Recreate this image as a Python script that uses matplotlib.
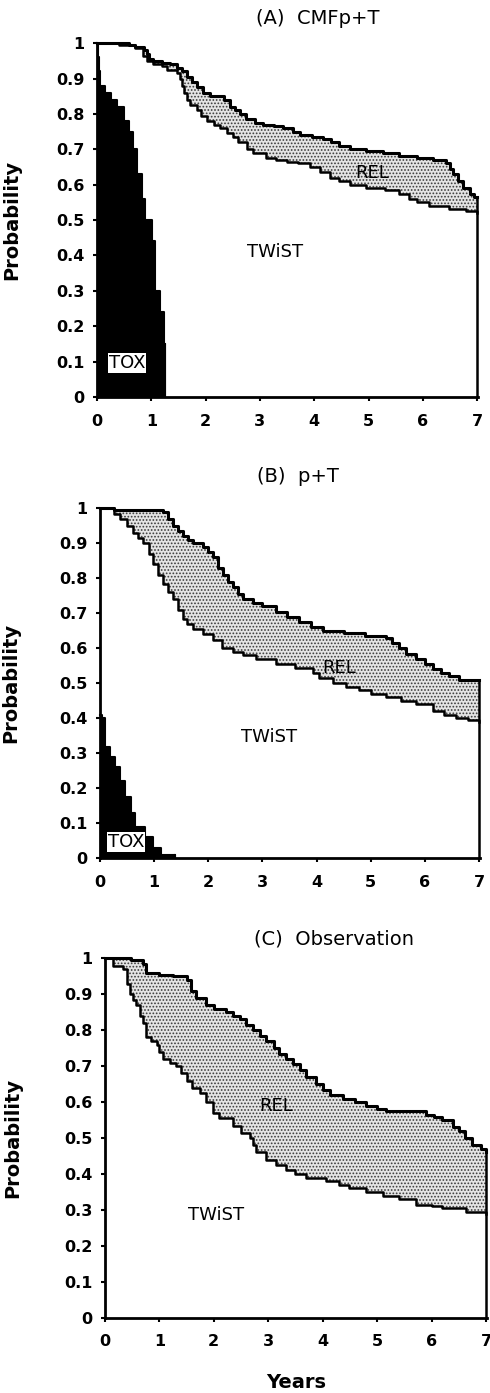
import matplotlib.pyplot as plt
import matplotlib.ticker as mtick

plt.rcParams.update({
    "font.family": ["DejaVu Sans"],
    "axes.spines.top": False,
    "axes.spines.right": False,
    "hatch.linewidth": 0.8,
})

# ---------- data ----------
# Panel A: CMFp+T
a_os_t = [0, 0.58, 0.70, 0.86, 0.92, 0.95, 1.04, 1.20, 1.35, 1.47, 1.56, 1.65, 1.74, 1.84, 1.95,
          2.08, 2.33, 2.45, 2.55, 2.63, 2.75, 2.90, 3.06, 3.25, 3.43, 3.60, 3.74, 3.95, 4.17, 4.30,
          4.45, 4.65, 4.96, 5.27, 5.57, 5.90, 6.18, 6.43, 6.50, 6.55, 6.65, 6.74, 6.86, 6.95, 7.0]
a_os_p = [1.0, 0.995, 0.99, 0.98, 0.97, 0.955, 0.95, 0.945, 0.94, 0.93, 0.92, 0.905, 0.89, 0.875, 0.86,
          0.85, 0.84, 0.82, 0.81, 0.80, 0.785, 0.775, 0.77, 0.765, 0.76, 0.75, 0.74, 0.735, 0.73, 0.72,
          0.71, 0.70, 0.695, 0.69, 0.68, 0.675, 0.67, 0.66, 0.645, 0.63, 0.61, 0.59, 0.575, 0.565, 0.565]
a_dfs_t = [0, 0.40, 0.70, 0.85, 0.92, 1.04, 1.20, 1.29, 1.47, 1.52, 1.56, 1.60, 1.65, 1.72, 1.84,
           1.92, 2.02, 2.15, 2.27, 2.40, 2.51, 2.60, 2.76, 2.88, 3.12, 3.30, 3.49, 3.70, 3.92, 4.10,
           4.29, 4.45, 4.65, 4.96, 5.30, 5.57, 5.75, 5.90, 6.12, 6.49, 6.80, 7.0]
a_dfs_p = [1.0, 0.995, 0.985, 0.965, 0.95, 0.94, 0.935, 0.925, 0.915, 0.90, 0.88, 0.86, 0.84, 0.825, 0.81,
           0.795, 0.78, 0.77, 0.76, 0.745, 0.735, 0.72, 0.70, 0.69, 0.675, 0.67, 0.665, 0.66, 0.65, 0.635,
           0.62, 0.61, 0.60, 0.59, 0.585, 0.575, 0.56, 0.55, 0.54, 0.53, 0.525, 0.52]
a_tox_t = [0, 0.02, 0.04, 0.06, 0.15, 0.25, 0.37, 0.49, 0.58, 0.67, 0.74, 0.83, 0.89, 1.01, 1.07,
           1.16, 1.24, 1.26]
a_tox_p = [1.0, 0.96, 0.92, 0.88, 0.86, 0.84, 0.82, 0.78, 0.75, 0.70, 0.63, 0.56, 0.50, 0.44, 0.30,
           0.24, 0.15, 0.0]

# Panel B: p+T
b_os_t = [0, 0.25, 1.17, 1.25, 1.35, 1.45, 1.53, 1.62, 1.72, 1.90, 2.00, 2.09, 2.18, 2.27, 2.36,
          2.46, 2.55, 2.64, 2.82, 3.00, 3.25, 3.45, 3.68, 3.90, 4.12, 4.50, 4.90, 5.28, 5.40, 5.52,
          5.65, 5.83, 6.00, 6.14, 6.30, 6.44, 6.63, 7.0]
b_os_p = [1.0, 0.995, 0.99, 0.97, 0.95, 0.935, 0.92, 0.91, 0.90, 0.89, 0.875, 0.86, 0.83, 0.81, 0.79,
          0.775, 0.755, 0.74, 0.73, 0.72, 0.705, 0.69, 0.675, 0.66, 0.65, 0.645, 0.635, 0.63, 0.615, 0.60,
          0.585, 0.57, 0.555, 0.54, 0.53, 0.52, 0.51, 0.51]
b_dfs_t = [0, 0.25, 0.37, 0.50, 0.61, 0.70, 0.80, 0.90, 0.98, 1.08, 1.17, 1.25, 1.35, 1.45, 1.53,
           1.60, 1.72, 1.90, 2.09, 2.25, 2.46, 2.65, 2.89, 3.25, 3.60, 3.93, 4.05, 4.30, 4.55, 4.79,
           5.00, 5.28, 5.55, 5.83, 6.14, 6.35, 6.57, 6.80, 7.0]
b_dfs_p = [1.0, 0.985, 0.97, 0.95, 0.93, 0.915, 0.90, 0.87, 0.84, 0.81, 0.785, 0.76, 0.74, 0.71, 0.685,
           0.67, 0.655, 0.64, 0.625, 0.60, 0.59, 0.58, 0.57, 0.555, 0.545, 0.53, 0.515, 0.50, 0.49, 0.48,
           0.47, 0.46, 0.45, 0.44, 0.42, 0.41, 0.40, 0.395, 0.39]
b_tox_t = [0, 0.04, 0.09, 0.18, 0.28, 0.37, 0.46, 0.58, 0.64, 0.83, 0.98, 1.13, 1.38]
b_tox_p = [0.41, 0.40, 0.317, 0.29, 0.26, 0.22, 0.175, 0.13, 0.09, 0.06, 0.03, 0.01, 0.0]

# Panel C: Observation
c_os_t = [0, 0.48, 0.70, 0.76, 1.00, 1.25, 1.50, 1.58, 1.68, 1.86, 2.00, 2.23, 2.35, 2.48, 2.60,
          2.72, 2.85, 2.96, 3.10, 3.20, 3.33, 3.45, 3.58, 3.70, 3.88, 4.00, 4.13, 4.37, 4.60, 4.80,
          5.00, 5.17, 5.90, 6.05, 6.20, 6.40, 6.51, 6.62, 6.75, 6.90, 7.0]
c_os_p = [1.0, 0.995, 0.985, 0.96, 0.955, 0.95, 0.94, 0.91, 0.89, 0.87, 0.86, 0.85, 0.84, 0.83, 0.815,
          0.80, 0.785, 0.77, 0.75, 0.735, 0.72, 0.705, 0.69, 0.67, 0.65, 0.635, 0.62, 0.61, 0.60, 0.59,
          0.58, 0.575, 0.565, 0.56, 0.55, 0.53, 0.52, 0.50, 0.48, 0.47, 0.46]
c_dfs_t = [0, 0.15, 0.34, 0.40, 0.46, 0.52, 0.58, 0.65, 0.70, 0.76, 0.85, 0.95, 1.00, 1.07, 1.20,
           1.31, 1.40, 1.50, 1.60, 1.74, 1.85, 1.99, 2.10, 2.35, 2.50, 2.66, 2.72, 2.78, 2.96, 3.15,
           3.33, 3.50, 3.70, 4.06, 4.30, 4.49, 4.80, 5.10, 5.40, 5.72, 6.00, 6.20, 6.63, 7.0]
c_dfs_p = [1.0, 0.98, 0.97, 0.93, 0.90, 0.885, 0.87, 0.84, 0.82, 0.78, 0.77, 0.76, 0.74, 0.72, 0.71,
           0.70, 0.68, 0.66, 0.64, 0.625, 0.60, 0.57, 0.555, 0.535, 0.515, 0.50, 0.48, 0.46, 0.44, 0.425,
           0.41, 0.40, 0.39, 0.38, 0.37, 0.36, 0.35, 0.34, 0.33, 0.315, 0.31, 0.305, 0.295, 0.29]

titles = ["(A)  CMFp+T", "(B)  p+T", "(C)  Observation"]
yticks = [0, 0.1, 0.2, 0.3, 0.4, 0.5, 0.6, 0.7, 0.8, 0.9, 1.0]
xticks = [0, 1, 2, 3, 4, 5, 6, 7]

panels = [
    dict(os=(a_os_t, a_os_p), dfs=(a_dfs_t, a_dfs_p), tox=(a_tox_t, a_tox_p),
         rect=[0.198, 0.715, 0.778, 0.254], title_xy=(0.58, 1.07),
         rel=(5.07, 0.633), twist=(3.27, 0.41), toxlab=(0.55, 0.096), ylab_x=-0.2),
    dict(os=(b_os_t, b_os_p), dfs=(b_dfs_t, b_dfs_p), tox=(b_tox_t, b_tox_p),
         rect=[0.204, 0.384, 0.776, 0.251], title_xy=(0.52, 1.09),
         rel=(4.42, 0.545), twist=(3.13, 0.346), toxlab=(0.48, 0.046), ylab_x=-0.21),
    dict(os=(c_os_t, c_os_p), dfs=(c_dfs_t, c_dfs_p), tox=None,
         rect=[0.214, 0.054, 0.780, 0.258], title_xy=(0.60, 1.055),
         rel=(3.15, 0.59), twist=(2.05, 0.286), toxlab=None, ylab_x=-0.215),
]

fig = plt.figure(figsize=(4.9, 13.93), dpi=100)

for i, p in enumerate(panels):
    ax = fig.add_axes(p["rect"])
    os_t, os_p = p["os"]
    dfs_t, dfs_p = p["dfs"]

    # REL band (between DFS and OS), stippled
    ax.fill_between(os_t, os_p, step="post", facecolor="#e4e4e4", edgecolor="#3a3a3a",
                    hatch=".....", linewidth=0, zorder=1)
    # TWiST region, white
    ax.fill_between(dfs_t, dfs_p, step="post", facecolor="white", linewidth=0, zorder=2)
    ax.step(os_t, os_p, where="post", color="black", lw=2.2, zorder=5, clip_on=False)
    ax.step(dfs_t, dfs_p, where="post", color="black", lw=1.8, zorder=5, clip_on=False)
    ax.plot([os_t[-1], os_t[-1]], [0, os_p[-1]], color="black", lw=1.8, zorder=5, clip_on=False)

    if p["tox"] is not None:
        tox_t, tox_p = p["tox"]
        ax.fill_between(tox_t, tox_p, step="post", facecolor="black", linewidth=0, zorder=3)
        ax.step(tox_t, tox_p, where="post", color="black", lw=1.5, zorder=4, clip_on=False)
        ax.plot([tox_t[-1], tox_t[-1]], [0, tox_p[-2]], color="black", lw=1.5, zorder=4)
        ax.text(*p["toxlab"], "TOX", fontsize=13, ha="center", va="center", zorder=6,
                bbox=dict(facecolor="white", edgecolor="none", pad=0.5))

    ax.text(*p["rel"], "REL", fontsize=13, ha="center", va="center", zorder=6)
    ax.text(*p["twist"], "TWiST", fontsize=13, ha="center", va="center", zorder=6)
    ax.text(*p["title_xy"], titles[i], transform=ax.transAxes, fontsize=14,
            ha="center", va="center")

    ax.set_xlim(0, 7.02)
    ax.set_ylim(0, 1.0)
    ax.set_xticks(xticks)
    ax.set_yticks(yticks)
    ax.yaxis.set_major_formatter(mtick.FuncFormatter(lambda v, _: f"{v:g}"))
    ax.tick_params(axis="y", direction="out", length=3, width=1.5, pad=6, labelsize=11.5)
    ax.tick_params(axis="x", direction="out", length=3, width=1.5, pad=9, labelsize=11.5)
    for lab in ax.get_xticklabels() + ax.get_yticklabels():
        lab.set_fontweight("bold")
    for s in ("left", "bottom"):
        ax.spines[s].set_linewidth(2.0)
    ax.set_ylabel("Probability", fontsize=14, fontweight="bold")
    ax.yaxis.set_label_coords(p["ylab_x"], 0.5)

ax.set_xlabel("Years", fontsize=14, fontweight="bold")
ax.xaxis.set_label_coords(0.5, -0.153)

fig.savefig("out.png", dpi=100)
